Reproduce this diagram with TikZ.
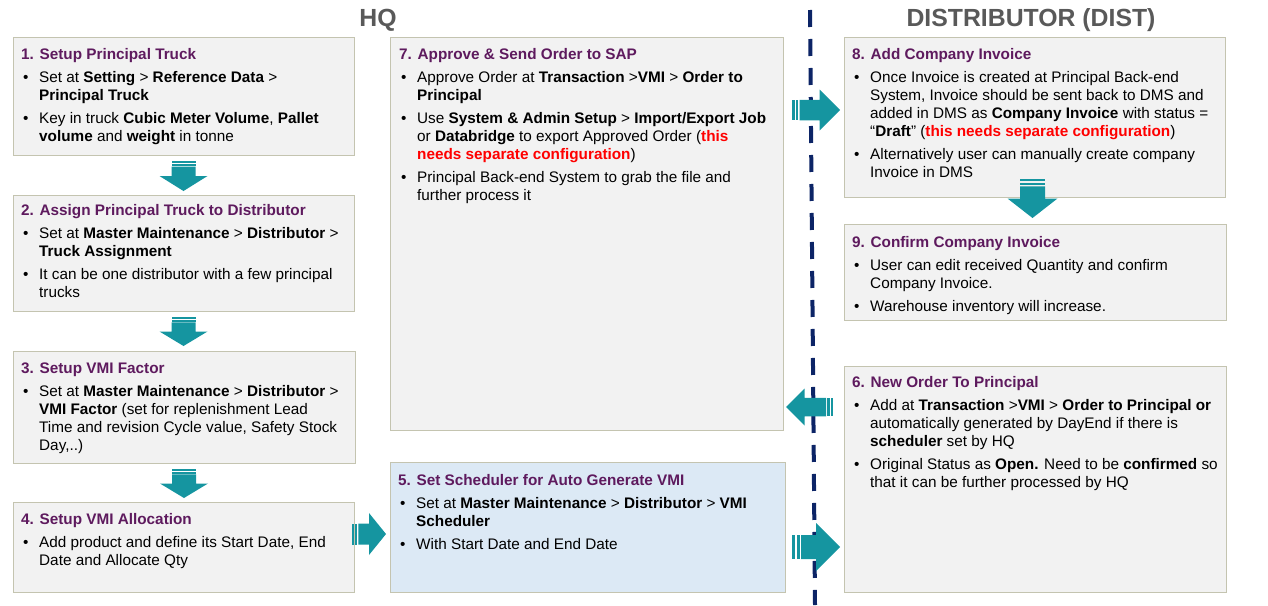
\documentclass[tikz,border=0pt]{standalone}
\usepackage{fontspec}
\setmainfont{Liberation Sans}
\usetikzlibrary{calc}

\definecolor{boxfill}{HTML}{F2F2F2}
\definecolor{boxline}{HTML}{C4C4B0}
\definecolor{bluefill}{HTML}{DCE9F5}
\definecolor{titlepurple}{HTML}{5E1A5E}
\definecolor{arrowteal}{HTML}{1595A0}
\definecolor{divnavy}{HTML}{0C2466}
\definecolor{headgray}{HTML}{595959}
\definecolor{notered}{HTML}{FF0000}

% text helpers
\newcommand\ttl[1]{\textcolor{titlepurple}{\textbf{#1}}}
\newcommand\bul{\makebox[18pt][l]{\hspace{2pt}\textbullet}}
\newcommand\ind{\hspace*{18pt}}
\newcommand\note[1]{\textcolor{notered}{\textbf{#1}}}

% striped block arrow: rotation, tail point, length, height
\newcommand\stripedarrow[4]{%
  \begin{scope}[shift={#2},rotate=#1]
    \pgfmathsetmacro\arrss{min(#3,#4)}
    \pgfmathsetmacro\arrhl{\arrss/2}
    \pgfmathsetmacro\arrbh{#4/4}
    \pgfmathsetmacro\arrhh{#4/2}
    \fill[arrowteal] (0,-\arrbh) rectangle ({2*\arrss/32},\arrbh);
    \fill[arrowteal] ({3*\arrss/32},-\arrbh) rectangle ({5*\arrss/32},\arrbh);
    \fill[arrowteal] ({6*\arrss/32},-\arrbh) -- ({#3-\arrhl},-\arrbh)
      -- ({#3-\arrhl},-\arrhh) -- (#3,0) -- ({#3-\arrhl},\arrhh)
      -- ({#3-\arrhl},\arrbh) -- ({6*\arrss/32},\arrbh) -- cycle;
  \end{scope}}

\tikzset{
  panel/.style={draw=boxline, fill=boxfill, line width=1pt, anchor=north west,
    inner sep=0pt, outer sep=0pt},
  panelbody/.style={anchor=north west, inner sep=0pt, align=left,
    font=\fontsize{15.3}{18}\selectfont},
  heading/.style={anchor=base, text=headgray,
    font=\fontsize{24.8}{28}\selectfont\bfseries},
}

\begin{document}
\begin{tikzpicture}[x=1pt,y=-1pt]
\useasboundingbox (0,0) rectangle (1268,605);

% column headings
\node[heading] (hq) at (378,26) {HQ};
\node[heading] (dist) at (1031,26) {DISTRIBUTOR (DIST)};

% divider between HQ and distributor
\coordinate (divtop) at (810,10);
\coordinate (divbot) at (815,605);
\draw[divnavy, line width=4pt, dash pattern=on 17pt off 12pt] (divtop) -- (divbot);

% panels
\node[panel, minimum width=341pt, minimum height=118pt] (b1) at (13,37) {};
\node[panel, minimum width=341pt, minimum height=116pt] (b2) at (13,195) {};
\node[panel, minimum width=342pt, minimum height=112pt] (b3) at (13,351) {};
\node[panel, minimum width=341pt, minimum height=90pt] (b4) at (13,502) {};
\node[panel, minimum width=393pt, minimum height=393pt] (b7) at (390,37) {};
\node[panel, fill=bluefill, minimum width=395pt, minimum height=130pt] (b5) at (390,462) {};
\node[panel, minimum width=381pt, minimum height=160pt] (b8) at (844,37) {};
\node[panel, minimum width=382pt, minimum height=96pt] (b9) at (844,224) {};
\node[panel, minimum width=382pt, minimum height=226pt] (b6) at (844,366) {};

% panel texts
\node[panelbody] (t1) at ($(b1.north west)+(8,11.5)$) {%
\ttl{1. Setup Principal Truck}\\[5pt]
\bul Set at \textbf{Setting} > \textbf{Reference Data} >\\
\ind\textbf{Principal Truck}\\[5pt]
\bul Key in truck \textbf{Cubic Meter Volume}, \textbf{Pallet}\\
\ind\textbf{volume} and \textbf{weight} in tonne};

\node[panelbody] (t2) at ($(b2.north west)+(8,9.5)$) {%
\ttl{2. Assign Principal Truck to Distributor}\\[5pt]
\bul Set at \textbf{Master Maintenance} > \textbf{Distributor} >\\
\ind\textbf{Truck Assignment}\\[5pt]
\bul It can be one distributor with a few principal\\
\ind trucks};

\node[panelbody] (t3) at ($(b3.north west)+(8,11.5)$) {%
\ttl{3. Setup VMI Factor}\\[5pt]
\bul Set at \textbf{Master Maintenance} > \textbf{Distributor} >\\
\ind\textbf{VMI Factor} (set for replenishment Lead\\
\ind Time and revision Cycle value, Safety Stock\\
\ind Day,..)};

\node[panelbody] (t4) at ($(b4.north west)+(8,11.5)$) {%
\ttl{4. Setup VMI Allocation}\\[5pt]
\bul Add product and define its Start Date, End\\
\ind Date and Allocate Qty};

\node[panelbody] (t7) at ($(b7.north west)+(9,11.5)$) {%
\ttl{7. Approve \& Send Order to SAP}\\[5pt]
\bul Approve Order at \textbf{Transaction} >\textbf{VMI} > \textbf{Order to}\\
\ind\textbf{Principal}\\[5pt]
\bul Use \textbf{System \& Admin Setup} > \textbf{Import/Export Job}\\
\ind or \textbf{Databridge} to export Approved Order (\note{this}\\
\ind\note{needs separate configuration})\\[5pt]
\bul Principal Back-end System to grab the file and\\
\ind further process it};

\node[panelbody] (t5) at ($(b5.north west)+(8,12.5)$) {%
\ttl{5. Set Scheduler for Auto Generate VMI}\\[5pt]
\bul Set at \textbf{Master Maintenance} > \textbf{Distributor} > \textbf{VMI}\\
\ind\textbf{Scheduler}\\[5pt]
\bul With Start Date and End Date};

\node[panelbody] (t8) at ($(b8.north west)+(8,11.5)$) {%
\ttl{8. Add Company Invoice}\\[5pt]
\bul Once Invoice is created at Principal Back-end\\
\ind System, Invoice should be sent back to DMS and\\
\ind added in DMS as \textbf{Company Invoice} with status =\\
\ind “\textbf{Draft}” (\note{this needs separate configuration})\\[5pt]
\bul Alternatively user can manually create company\\
\ind Invoice in DMS};

\node[panelbody] (t9) at ($(b9.north west)+(8,12.5)$) {%
\ttl{9. Confirm Company Invoice}\\[5pt]
\bul User can edit received Quantity and confirm\\
\ind Company Invoice.\\[5pt]
\bul Warehouse inventory will increase.};

\node[panelbody] (t6) at ($(b6.north west)+(8,10.5)$) {%
\ttl{6. New Order To Principal}\\[5pt]
\bul Add at \textbf{Transaction} >\textbf{VMI} > \textbf{Order to Principal or}\\
\ind automatically generated by DayEnd if there is\\
\ind\textbf{scheduler} set by HQ\\[5pt]
\bul Original Status as \textbf{Open.} Need to be \textbf{confirmed} so\\
\ind that it can be further processed by HQ};

% flow arrows
\stripedarrow{-90}{($(b1.south)+(0,6)$)}{30}{48}
\stripedarrow{-90}{($(b2.south)+(0,6)$)}{29}{48}
\stripedarrow{-90}{($(b3.south)+(0,6)$)}{29}{48}
\stripedarrow{0}{($(b4.north east)+(-2,32)$)}{34}{42}
\stripedarrow{0}{($(b5.north east)+(7,85)$)}{48}{48}
\stripedarrow{180}{($(b6.north west)+(-11,41)$)}{47}{37}
\stripedarrow{0}{($(b7.north east)+(9,73)$)}{48}{41}
\stripedarrow{-90}{($(b8.south)+(-2,-18)$)}{39}{50}
\end{tikzpicture}
\end{document}
